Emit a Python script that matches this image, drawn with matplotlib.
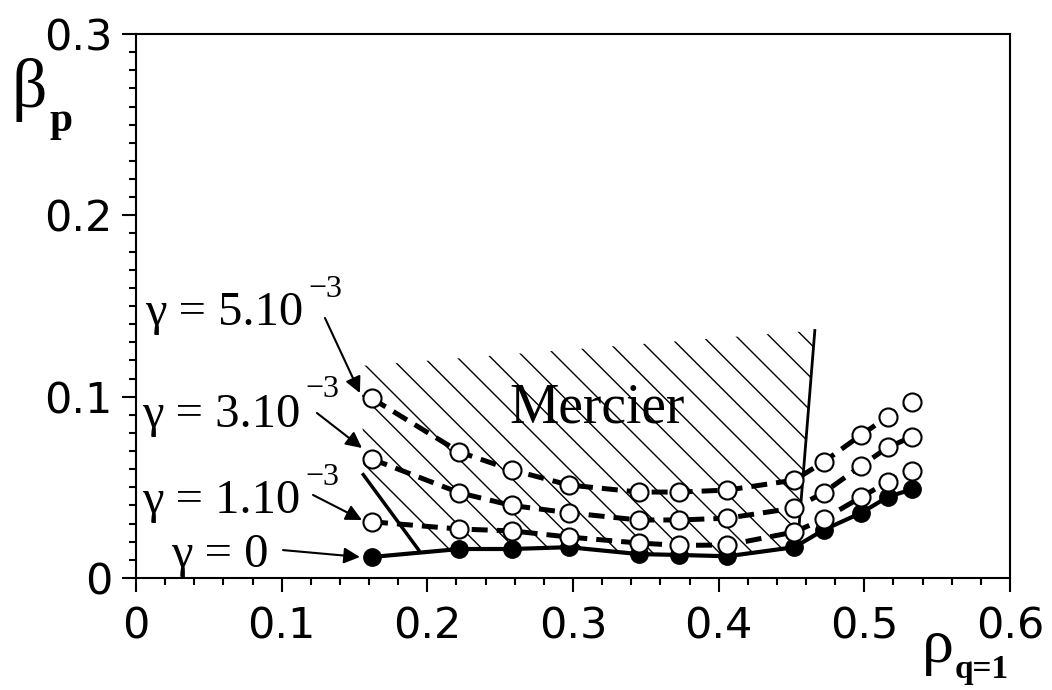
import numpy as np
import matplotlib
matplotlib.use("Agg")
import matplotlib.pyplot as plt
from matplotlib.ticker import MultipleLocator, FixedLocator, FixedFormatter

# === Data ===
rho = [0.162, 0.222, 0.258, 0.297, 0.345, 0.373, 0.406, 0.452, 0.472, 0.498, 0.516, 0.533]
beta_g0 = [0.0116, 0.016, 0.016, 0.017, 0.0132, 0.0127, 0.012, 0.017, 0.0265, 0.036, 0.0447, 0.049]
beta_g1 = [0.031, 0.027, 0.026, 0.0226, 0.0193, 0.018, 0.0182, 0.0254, 0.0325, 0.0447, 0.053, 0.059]
beta_g3 = [0.0656, 0.047, 0.040, 0.036, 0.032, 0.032, 0.033, 0.0386, 0.047, 0.062, 0.072, 0.078]
beta_g5 = [0.099, 0.0695, 0.0596, 0.0513, 0.0474, 0.0474, 0.0485, 0.054, 0.064, 0.079, 0.089, 0.097]

# Mercier unstable region (hatched) and its drawn boundaries
mercier_rho = [0.155, 0.466, 0.454, 0.406, 0.373, 0.345, 0.297, 0.258, 0.222, 0.194, 0.156]
mercier_beta = [0.117, 0.1365, 0.017, 0.012, 0.0127, 0.0132, 0.017, 0.016, 0.016, 0.0155, 0.057]
mercier_right_rho = [0.466, 0.454]
mercier_right_beta = [0.1365, 0.017]
mercier_left_rho = [0.156, 0.194]
mercier_left_beta = [0.057, 0.0155]

xtick_vals = [0, 0.1, 0.2, 0.3, 0.4, 0.5, 0.6]
xtick_labels = ["0", "0.1", "0.2", "0.3", "0.4", "0.5", "0.6"]
ytick_vals = [0, 0.1, 0.2, 0.3]
ytick_labels = ["0", "0.1", "0.2", "0.3"]

SERIF = "Liberation Serif"
plt.rcParams["hatch.linewidth"] = 1.0

fig = plt.figure(figsize=(10.52, 6.9), dpi=100)
ax = fig.add_axes([0.1293, 0.1623, 0.8308, 0.7884])

# hatched Mercier region
ax.fill(mercier_rho, mercier_beta, facecolor="none", edgecolor="black",
        hatch="\\", linewidth=0, zorder=1)
ax.plot(mercier_right_rho, mercier_right_beta, color="black", lw=2, zorder=2)
ax.plot(mercier_left_rho, mercier_left_beta, color="black", lw=2.5, zorder=2)

# gamma = 0 (filled, solid)
ax.plot(rho, beta_g0, color="black", lw=3, marker="o", ms=12.5,
        mfc="black", mec="black", zorder=3)

# gamma > 0 (open, dashed)
for b in (beta_g1, beta_g3, beta_g5):
    ax.plot(rho, b, color="black", lw=3.6, ls=(0, (3.2, 1.8)), marker="o", ms=13,
            mfc="white", mec="black", mew=1.5, zorder=4)

ax.text(0.3164, 0.086, "Mercier", fontsize=40, family=SERIF, ha="center", va="baseline")

# gamma labels with arrows
ax.text(0.006, 0.1395, "γ = 5.10", fontsize=35, family=SERIF, va="baseline")
ax.text(0.118, 0.155, "−3", fontsize=23, family=SERIF, va="baseline")
ax.text(0.004, 0.0833, "γ = 3.10", fontsize=35, family=SERIF, va="baseline")
ax.text(0.116, 0.0998, "−3", fontsize=23, family=SERIF, va="baseline")
ax.text(0.004, 0.0358, "γ = 1.10", fontsize=35, family=SERIF, va="baseline")
ax.text(0.116, 0.0513, "−3", fontsize=23, family=SERIF, va="baseline")
ax.text(0.024, 0.006, "γ = 0", fontsize=35, family=SERIF, va="baseline")

arrows = [((0.1297, 0.1434), (0.1537, 0.1020)),
          ((0.1242, 0.0910), (0.1551, 0.0717)),
          ((0.1215, 0.0458), (0.1551, 0.0320)),
          ((0.1009, 0.0154), (0.1537, 0.0116))]
for tail, head in arrows:
    ax.annotate("", xy=head, xytext=tail,
                arrowprops=dict(arrowstyle="-|>", color="black", lw=1.5,
                                mutation_scale=24, shrinkA=0, shrinkB=0),
                zorder=5)

# axes
ax.set_xlim(0, 0.6)
ax.set_ylim(0, 0.3)
ax.xaxis.set_major_locator(FixedLocator(xtick_vals))
ax.xaxis.set_major_formatter(FixedFormatter(xtick_labels))
ax.yaxis.set_major_locator(FixedLocator(ytick_vals))
ax.yaxis.set_major_formatter(FixedFormatter(ytick_labels))
ax.xaxis.set_minor_locator(MultipleLocator(0.02))
ax.yaxis.set_minor_locator(MultipleLocator(0.01))
for s in ax.spines.values():
    s.set_linewidth(1.5)
ax.tick_params(which="both", direction="out", top=False, right=False, width=1.5)
ax.tick_params(which="major", length=10, labelsize=31)
ax.tick_params(which="minor", length=5)
ax.tick_params(axis="x", which="major", pad=10)
ax.tick_params(axis="y", which="major", pad=7)

# axis labels
fig.text(0.0114, 0.845, "β", fontsize=50, family=SERIF, va="baseline")
fig.text(0.0475, 0.810, "p", fontsize=30, family=SERIF, weight="bold", va="baseline")
fig.text(0.8764, 0.0406, "ρ", fontsize=46, family=SERIF, va="baseline")
fig.text(0.9078, 0.0174, "q=1", fontsize=24, family=SERIF, weight="bold", va="baseline")

fig.savefig("out.png", dpi=100)
